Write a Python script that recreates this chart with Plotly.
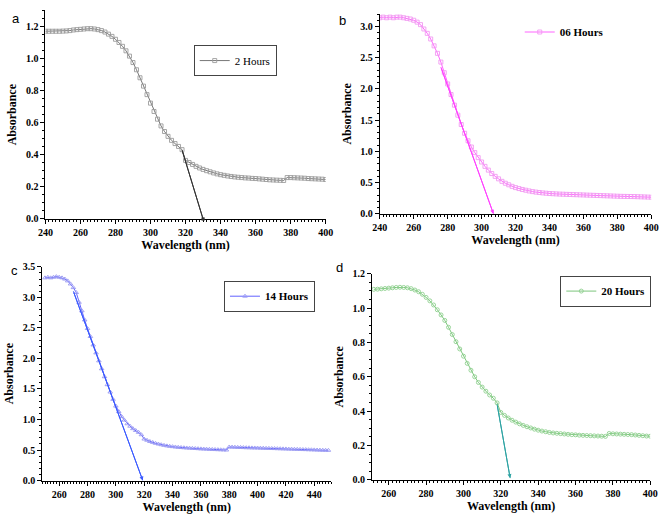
import plotly.graph_objects as go

# ---- data ----
wl_a = list(range(240, 401, 2))
abs_a = [1.170, 1.170, 1.170, 1.170, 1.170, 1.171, 1.172, 1.174, 1.178, 1.180,
         1.182, 1.184, 1.186, 1.186, 1.184, 1.180, 1.174, 1.165, 1.152, 1.138,
         1.120, 1.100, 1.076, 1.048, 1.015, 0.975, 0.930, 0.880, 0.828, 0.775,
         0.722, 0.670, 0.622, 0.580, 0.545, 0.515, 0.490, 0.470, 0.452, 0.432,
         0.365, 0.352, 0.340, 0.328, 0.318, 0.309, 0.301, 0.294, 0.287, 0.281,
         0.276, 0.272, 0.268, 0.265, 0.262, 0.260, 0.258, 0.256, 0.255, 0.253,
         0.252, 0.250, 0.248, 0.246, 0.244, 0.243, 0.242, 0.241, 0.240, 0.258,
         0.258, 0.257, 0.256, 0.255, 0.254, 0.252, 0.251, 0.250, 0.249, 0.248,
         0.246]

wl_b = list(range(240, 401, 2))
abs_b = [3.14, 3.15, 3.14, 3.15, 3.14, 3.15, 3.15, 3.14, 3.13, 3.12,
         3.10, 3.07, 3.03, 2.96, 2.89, 2.80, 2.69, 2.57, 2.43, 2.26,
         2.08, 1.91, 1.74, 1.58, 1.43, 1.29, 1.17, 1.07, 0.98, 0.90,
         0.83, 0.76, 0.70, 0.645, 0.60, 0.56, 0.52, 0.49, 0.465, 0.44,
         0.42, 0.405, 0.39, 0.378, 0.366, 0.356, 0.348, 0.341, 0.335, 0.330,
         0.325, 0.322, 0.319, 0.316, 0.314, 0.312, 0.310, 0.308, 0.306, 0.304,
         0.302, 0.300, 0.298, 0.296, 0.294, 0.292, 0.290, 0.288, 0.286, 0.284,
         0.282, 0.280, 0.279, 0.278, 0.277, 0.276, 0.274, 0.272, 0.270, 0.268,
         0.266]

wl_c = list(range(250, 451, 2))
abs_c = [3.32, 3.33, 3.32, 3.33, 3.34, 3.33, 3.32, 3.30, 3.27, 3.22,
         3.16, 3.08, 2.92, 2.78, 2.63, 2.49, 2.36, 2.22, 2.09, 1.96,
         1.83, 1.70, 1.57, 1.45, 1.33, 1.22, 1.13, 1.05, 0.99, 0.93,
         0.89, 0.85, 0.82, 0.79, 0.75, 0.68, 0.66, 0.64, 0.625, 0.61,
         0.598, 0.587, 0.577, 0.568, 0.561, 0.555, 0.550, 0.545, 0.541, 0.537,
         0.534, 0.531, 0.528, 0.525, 0.522, 0.519, 0.517, 0.515, 0.512, 0.510,
         0.508, 0.506, 0.504, 0.502, 0.500, 0.550, 0.548, 0.546, 0.544, 0.542,
         0.540, 0.538, 0.537, 0.535, 0.534, 0.533, 0.531, 0.530, 0.528, 0.527,
         0.525, 0.524, 0.522, 0.521, 0.519, 0.518, 0.516, 0.515, 0.513, 0.512,
         0.510, 0.508, 0.507, 0.505, 0.504, 0.502, 0.500, 0.499, 0.497, 0.496,
         0.495]

wl_d = list(range(252, 401, 2))
abs_d = [1.109, 1.110, 1.112, 1.114, 1.116, 1.118, 1.120, 1.121, 1.120,
         1.118, 1.113, 1.105, 1.095, 1.080, 1.062, 1.042, 1.018, 0.990, 0.960,
         0.928, 0.888, 0.846, 0.804, 0.762, 0.720, 0.678, 0.638, 0.600, 0.567,
         0.540, 0.516, 0.494, 0.475, 0.448, 0.392, 0.375, 0.360, 0.347, 0.336,
         0.326, 0.317, 0.309, 0.302, 0.295, 0.289, 0.284, 0.280, 0.276, 0.273,
         0.271, 0.269, 0.267, 0.265, 0.263, 0.262, 0.260, 0.259, 0.258, 0.257,
         0.256, 0.255, 0.254, 0.253, 0.270, 0.268, 0.267, 0.266, 0.265, 0.264,
         0.263, 0.261, 0.259, 0.257, 0.255, 0.254]

# tangent (band-edge) lines: [start, end]
tan_a_x, tan_a_y = [318, 330], [0.43, 0.0]
tan_b_x, tan_b_y = [276, 307], [2.35, 0.0]
tan_c_x, tan_c_y = [270, 319], [3.10, 0.0]
tan_d_x, tan_d_y = [318, 325], [0.44, 0.01]

SERIF = "Times New Roman, Liberation Serif, serif"

panels = [
    dict(name="2 Hours", x=wl_a, y=abs_a, sym="square-open", mc="#9c9c9c", lc="#555555",
         tx=tan_a_x, ty=tan_a_y, tc="#333333", head=7,
         xd=[0.0587, 0.4873], yd=[0.5824, 0.9914], xr=[240, 400], yr=[0, 1.3],
         ydt=0.2, ymin=0.05, leg=(0.2855, 0.893), bold=False, border=True),
    dict(name="06 Hours", x=wl_b, y=abs_b, sym="square-open", mc="#f29af2", lc="#ff3cff",
         tx=tan_b_x, ty=tan_b_y, tc="#ff40ff", head=2,
         xd=[0.5700, 0.9851], yd=[0.5925, 0.9843], xr=[240, 400], yr=[0, 3.2],
         ydt=0.5, ymin=0.1, leg=(0.784, 0.949), bold=True, border=False),
    dict(name="14 Hours", x=wl_c, y=abs_c, sym="triangle-up-open", mc="#9898f2", lc="#3a3aff",
         tx=tan_c_x, ty=tan_c_y, tc="#3a5aff", head=2,
         xd=[0.0538, 0.4958], yd=[0.0695, 0.4885], xr=[248, 452], yr=[0, 3.5],
         ydt=0.5, ymin=0.1, leg=(0.3318, 0.431), bold=True, border=True),
    dict(name="20 Hours", x=wl_d, y=abs_d, sym="circle-open", mc="#8fd08f", lc="#5cb85c",
         tx=tan_d_x, ty=tan_d_y, tc="#2ea3a3", head=2,
         xd=[0.5580, 0.9836], yd=[0.0709, 0.4751], xr=[251, 400], yr=[0, 1.2],
         ydt=0.2, ymin=0.05, leg=(0.846, 0.441), bold=True, border=True),
]

letters = [("a", 0.004, 0.995), ("b", 0.505, 0.99), ("c", 0.003, 0.5), ("d", 0.5, 0.505)]

fig = go.Figure()
layout = dict(width=669, height=522, margin=dict(l=0, r=0, t=0, b=0),
              paper_bgcolor="white", plot_bgcolor="white", showlegend=True)
annotations = []

for i, p in enumerate(panels):
    n = "" if i == 0 else str(i + 1)
    leg = "legend" + n
    fig.add_trace(go.Scatter(
        x=p["x"], y=p["y"], mode="lines+markers", name=p["name"],
        xaxis="x" + n, yaxis="y" + n, legend=leg,
        line=dict(color=p["lc"], width=0.8),
        marker=dict(symbol=p["sym"], size=4, color=p["mc"], line=dict(width=0.9, color=p["mc"])),
    ))
    # tangent line and its arrow tip
    fig.add_trace(go.Scatter(x=p["tx"], y=p["ty"], mode="lines", showlegend=False,
                             xaxis="x" + n, yaxis="y" + n,
                             line=dict(color=p["tc"], width=1)))
    annotations.append(dict(x=p["tx"][1], y=p["ty"][1], ax=p["tx"][0], ay=p["ty"][0],
                            xref="x" + n, yref="y" + n, axref="x" + n, ayref="y" + n,
                            text="", showarrow=True, arrowhead=p["head"], arrowsize=0.8,
                            arrowwidth=1, arrowcolor=p["tc"]))

    axis_common = dict(showline=True, linecolor="black", linewidth=1, ticks="outside",
                       ticklen=4, tickwidth=1, tickcolor="black", showgrid=False,
                       zeroline=False, mirror=False, ticklabeloverflow="allow",
                       tickfont=dict(family=SERIF, size=10, color="black", weight="bold"))
    layout["xaxis" + n] = dict(axis_common, domain=p["xd"], range=p["xr"], anchor="y" + n,
                               dtick=20, tick0=240,
                               minor=dict(ticks="outside", ticklen=2, dtick=2,
                                          tickcolor="black"),
                               title=dict(text="Wavelength (nm)", standoff=1,
                                          font=dict(family=SERIF, size=12, color="black",
                                                    weight="bold")))
    layout["yaxis" + n] = dict(axis_common, domain=p["yd"], range=p["yr"], anchor="x" + n,
                               dtick=p["ydt"], tick0=0, tickformat=".1f",
                               minor=dict(ticks="outside", ticklen=2, dtick=p["ymin"],
                                          tickcolor="black"),
                               title=dict(text="Absorbance", standoff=6,
                                          font=dict(family=SERIF, size=12, color="black",
                                                    weight="bold")))
    layout[leg] = dict(x=p["leg"][0], y=p["leg"][1], xanchor="left", yanchor="middle",
                       bgcolor="white", borderwidth=1 if p["border"] else 0,
                       bordercolor="#444444", itemwidth=30, tracegroupgap=0,
                       font=dict(family=SERIF, size=11, color="black",
                                 weight="bold" if p["bold"] else "normal"))

for txt, lx, ly in letters:
    annotations.append(dict(text=txt, x=lx, y=ly, xref="paper", yref="paper",
                            xanchor="left", yanchor="top", showarrow=False,
                            font=dict(family="Liberation Sans", size=13, color="black")))

layout["annotations"] = annotations
fig.update_layout(**layout)
# the page body has a default 8px margin; drop it so the figure sits at the window origin
fig.write_html("out.html", config={"displayModeBar": False},
               post_script="document.body.style.margin = '0';")
